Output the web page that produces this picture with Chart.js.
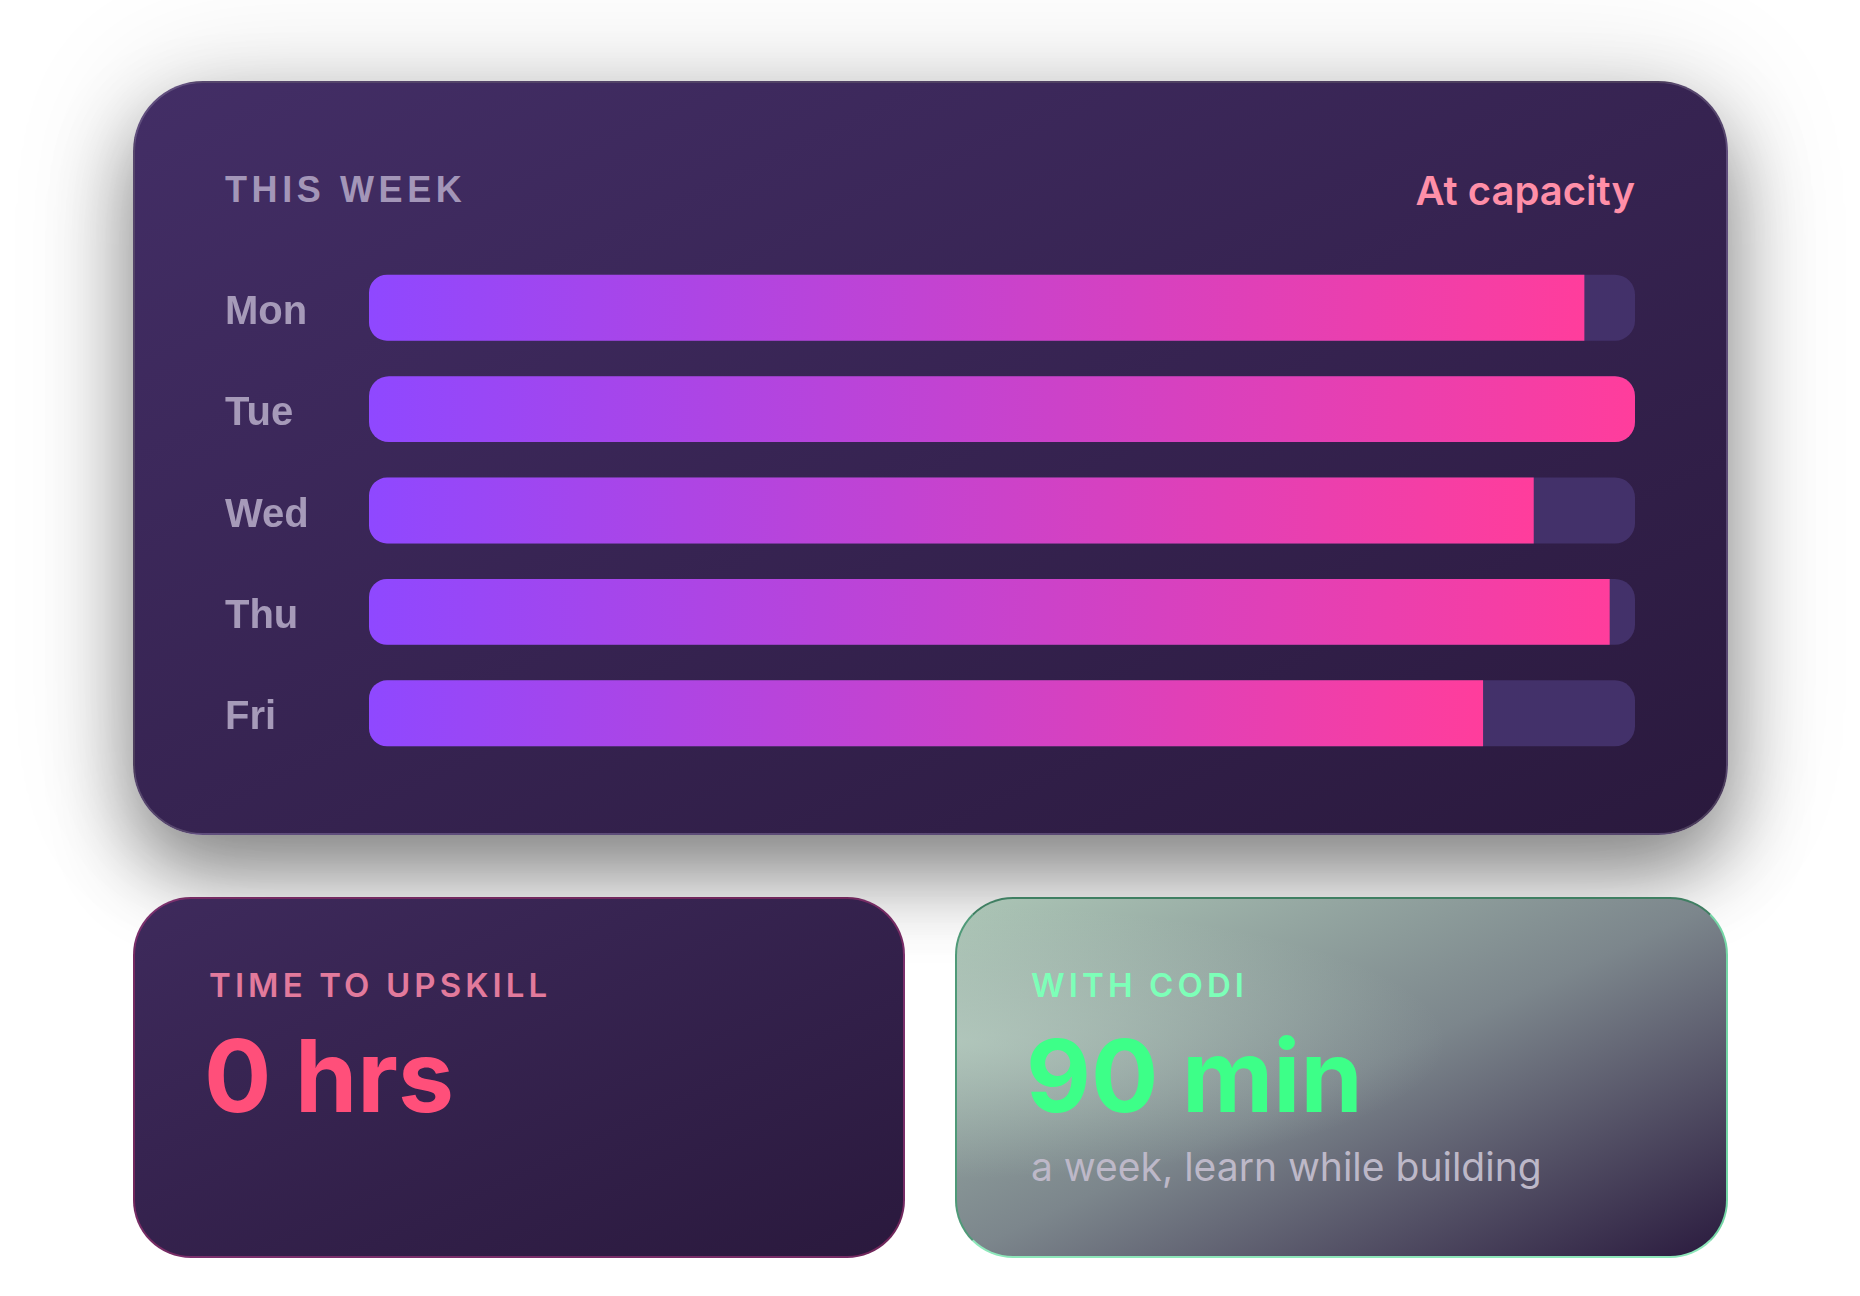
<!doctype html>
<html>
<head>
<title>This week</title>
<script src="https://cdn.jsdelivr.net/npm/chart.js@4.4.1/dist/chart.umd.min.js"></script>
<style>
html, body {
	margin: 0;
	padding: 0;
	width: 1860px;
	height: 1296px;
	overflow: hidden;
	background: #ffffff;
}
.card {
	position: absolute;
	box-sizing: border-box;
}
#week {
	left: 133px; top: 81px; width: 1595px; height: 754px;
	border-radius: 70px;
	border: 2px solid rgba(255,255,255,0.16);
	background: linear-gradient(to bottom right, #432e66, #2a193d);
	box-shadow: 0 40px 80px rgba(0,0,0,0.44), 0 0 130px rgba(0,0,0,0.14);
}
#upskill {
	left: 133px; top: 897px; width: 772px; height: 361px;
	border-radius: 58px;
	border: 2px solid rgba(225,60,140,0.38);
	background: linear-gradient(to bottom right, #3e2a5c, #2a193d);
}
#codi {
	left: 955px; top: 897px; width: 773px; height: 361px;
	border-radius: 58px;
	border: 2px solid;
	border-color: #3f7f62 #74d6a6 #8ee8bb #4f9a78;
	background:
		radial-gradient(ellipse at 0% 40%, rgba(195,218,204,0.55), rgba(195,218,204,0) 45%),
		linear-gradient(to bottom right, #acc6b6 0%, #7c868c 50%, #2a1a3e 100%);
}
.txt {
	position: absolute;
	white-space: nowrap;
}
#title {
	left: 225px; top: 172px;
	font: bold 36px/36px "Liberation Sans", Arial, sans-serif;
	letter-spacing: 4.6px;
	color: #a396b8;
}
#status {
	right: 225px; top: 171px;
	font: 600 40px/40px Inter, sans-serif;
	color: #ff8fa8;
}
.label {
	font: 600 33px/33px Inter, sans-serif;
	letter-spacing: 4.1px;
	top: 969px;
}
.big {
	font: 700 100px/100px Inter, sans-serif;
	top: 1026px;
}
#chartBox {
	position: absolute;
	left: 225px; top: 233px;
	width: 1410px; height: 555px;
}
</style>
</head>
<body>
	<div class="card" id="week"></div>
	<div class="card" id="upskill"></div>
	<div class="card" id="codi"></div>

	<div class="txt" id="title">THIS WEEK</div>
	<div class="txt" id="status">At capacity</div>

	<div id="chartBox"><canvas id="canvas"></canvas></div>

	<div class="txt label" style="left:209px; color:#e27a9c;">TIME TO UPSKILL</div>
	<div class="txt big" style="left:204px; color:#ff4f7a;">0 hrs</div>

	<div class="txt label" style="left:1031px; color:#7dffb8;">WITH CODI</div>
	<div class="txt big" style="left:1026px; color:#3dff88;">90 min</div>
	<div class="txt" style="left:1031px; top:1147px; font:400 39px/39px Inter, sans-serif; color:#bdb8c8;">a week, learn while building</div>

	<script>
		// load per day, percent of capacity
		var days = ['Mon', 'Tue', 'Wed', 'Thu', 'Fri'];
		var load = [96, 100, 92, 98, 88];
		var capacity = [100, 100, 100, 100, 100];

		var RADIUS = 18;

		function barGradient(context) {
			var chart = context.chart;
			if (!chart.chartArea) return '#8f48ff';
			var x = chart.scales.x;
			var x0 = x.getPixelForValue(0);
			var x1 = x.getPixelForValue(context.raw);
			var g = chart.ctx.createLinearGradient(x0, 0, x1, 0);
			g.addColorStop(0, '#8f48ff');
			g.addColorStop(1, '#ff3d9c');
			return g;
		}

		function barRadius(context) {
			if (context.raw >= 100) return RADIUS + 2;
			return { topLeft: RADIUS, bottomLeft: RADIUS, topRight: 0, bottomRight: 0 };
		}

		var ctx = document.getElementById('canvas').getContext('2d');
		window.weekChart = new Chart(ctx, {
			type: 'bar',
			data: {
				labels: days,
				datasets: [{
					label: 'Load',
					data: load,
					backgroundColor: barGradient,
					borderRadius: barRadius,
					borderSkipped: false,
					order: 0
				}, {
					label: 'Capacity',
					data: capacity,
					backgroundColor: '#43316a',
					borderRadius: RADIUS + 2,
					borderSkipped: false,
					order: 1
				}]
			},
			options: {
				indexAxis: 'y',
				responsive: true,
				maintainAspectRatio: false,
				animation: false,
				events: [],
				layout: { padding: 0 },
				datasets: {
					bar: {
						grouped: false,
						barPercentage: 1,
						categoryPercentage: 0.65
					}
				},
				plugins: {
					legend: { display: false },
					tooltip: { enabled: false },
					title: { display: false }
				},
				scales: {
					x: {
						display: false,
						min: 0,
						max: 100
					},
					y: {
						grid: { display: false },
						border: { display: false },
						afterFit: function(scale) { scale.width = 144; },
						ticks: {
							crossAlign: 'far',
							padding: 0,
							labelOffset: 5,
							color: '#a69ab9',
							font: { family: '"Liberation Sans", Arial, sans-serif', size: 40, weight: 'bold' }
						}
					}
				}
			}
		});
	</script>
</body>
</html>
